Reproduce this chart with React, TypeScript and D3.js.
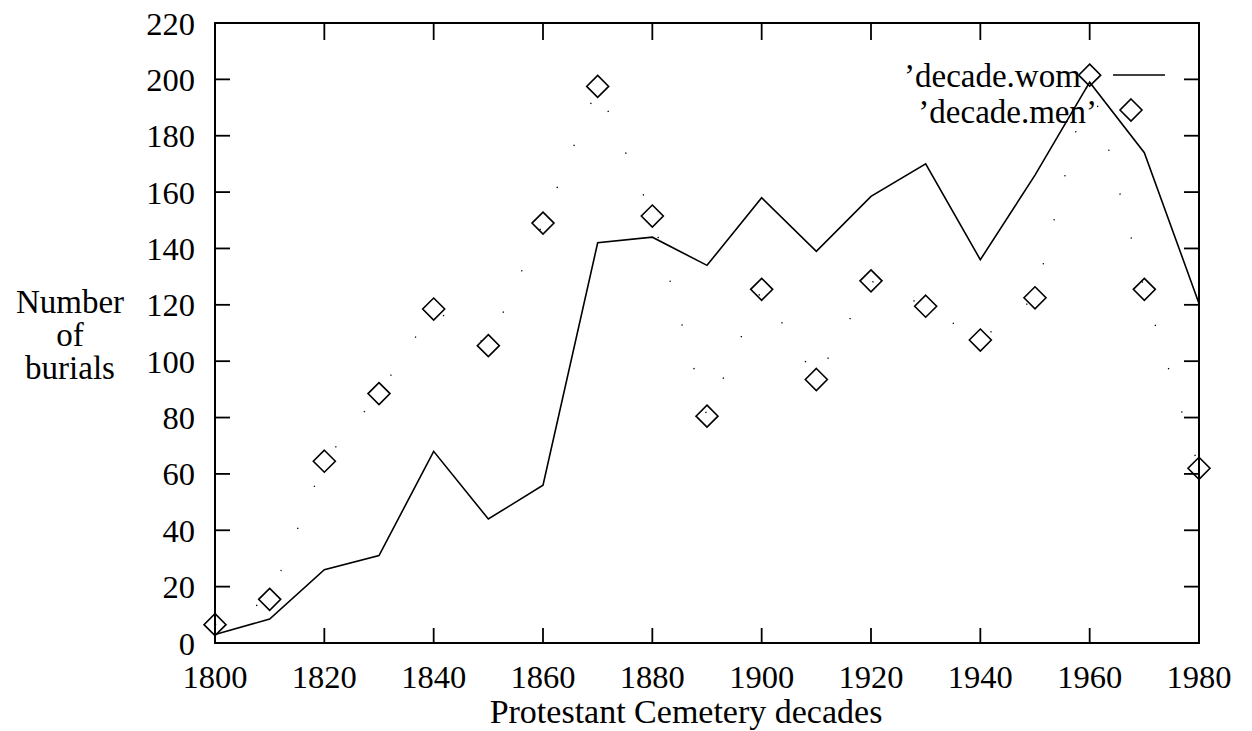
import * as d3 from 'd3';

const decades = [1800, 1810, 1820, 1830, 1840, 1850, 1860, 1870, 1880, 1890, 1900, 1910, 1920, 1930, 1940, 1950, 1960, 1970, 1980];
const women = [3, 8.5, 26, 31, 68, 44, 56, 142, 144, 134, 158, 139, 158.5, 170, 136, 166, 199, 174, 120.5];
const men = [6.5, 15.5, 64.5, 88.5, 118.5, 105.5, 149, 197.5, 151.5, 80.5, 125.5, 93.5, 128.5, 119.5, 107.5, 122.5, 201.5, 125.5, 62];
const xTicks = [1800, 1820, 1840, 1860, 1880, 1900, 1920, 1940, 1960, 1980];
const yTicks = [0, 20, 40, 60, 80, 100, 120, 140, 160, 180, 200, 220];

const FONT = "'Liberation Serif'";

function Diamond({ x, y, r = 11 }: { x: number; y: number; r?: number }) {
  return (
    <path
      d={`M${x},${y - r}L${x + r},${y}L${x},${y + r}L${x - r},${y}Z`}
      fill="none"
      stroke="#000"
      strokeWidth={1.6}
    />
  );
}

export default function App() {
  const width = 1252;
  const height = 731;
  const left = 215;
  const right = 1199;
  const top = 23;
  const bottom = 643;
  const tick = 15;

  const x = d3.scaleLinear().domain([1800, 1980]).range([left, right]);
  const y = d3.scaleLinear().domain([0, 220]).range([bottom, top]);

  const line = d3.line<number>()
    .x((_, i) => x(decades[i]))
    .y(d => y(d));

  // digits in the original are a bit narrower than the words, so two sizes
  const tickTxt = { fontFamily: FONT, fontSize: 32.5 };
  const txt = { fontFamily: FONT, fontSize: 34 };
  const small = { fontFamily: FONT, fontSize: 33 };

  return (
    <svg
      width={width}
      height={height}
      viewBox={`0 0 ${width} ${height}`}
      style={{ position: 'absolute', left: 0, top: 0, background: '#fff' }}
    >
      <rect x={0} y={0} width={width} height={height} fill="#fff" />

      {/* frame */}
      <rect x={left} y={top} width={right - left} height={bottom - top} fill="none" stroke="#000" strokeWidth={2} />

      {/* y ticks, both sides */}
      {yTicks.map(t => (
        <g key={'y' + t}>
          {t > 0 && t < 220 && (
            <>
              <line x1={left} x2={left + tick} y1={y(t)} y2={y(t)} stroke="#000" strokeWidth={1.8} />
              <line x1={right} x2={right - tick} y1={y(t)} y2={y(t)} stroke="#000" strokeWidth={1.8} />
            </>
          )}
          <text x={195} y={y(t) + 11.5} textAnchor="end" style={tickTxt}>{t}</text>
        </g>
      ))}

      {/* x ticks, both sides */}
      {xTicks.map(t => (
        <g key={'x' + t}>
          {t > 1800 && t < 1980 && (
            <>
              <line x1={x(t)} x2={x(t)} y1={bottom} y2={bottom - tick} stroke="#000" strokeWidth={1.8} />
              <line x1={x(t)} x2={x(t)} y1={top} y2={top + tick + 2} stroke="#000" strokeWidth={1.8} />
            </>
          )}
          <text x={x(t)} y={688} textAnchor="middle" style={tickTxt}>{t}</text>
        </g>
      ))}

      {/* axis titles */}
      <text x={686} y={723} textAnchor="middle" style={txt}>Protestant Cemetery decades</text>
      <text x={70} y={313} textAnchor="middle" style={small}>Number</text>
      <text x={70} y={346} textAnchor="middle" style={small}>of</text>
      <text x={70} y={379} textAnchor="middle" style={small}>burials</text>

      {/* women: solid line */}
      <path d={line(women) ?? ''} fill="none" stroke="#000" strokeWidth={1.6} />

      {/* men: sparse dotted connection + diamonds */}
      <path d={line(men) ?? ''} fill="none" stroke="#000" strokeWidth={1.3} strokeDasharray="1.3 44" />
      {men.map((v, i) => (
        <Diamond key={'m' + i} x={x(decades[i])} y={y(v)} />
      ))}

      {/* legend */}
      <text x={904} y={87} style={small}>’decade.wom</text>
      <line x1={1113} x2={1165} y1={75} y2={75} stroke="#000" strokeWidth={1.6} />
      <text x={1097} y={123} textAnchor="end" style={small}>’decade.men’</text>
      <Diamond x={1131} y={110} />
    </svg>
  );
}
